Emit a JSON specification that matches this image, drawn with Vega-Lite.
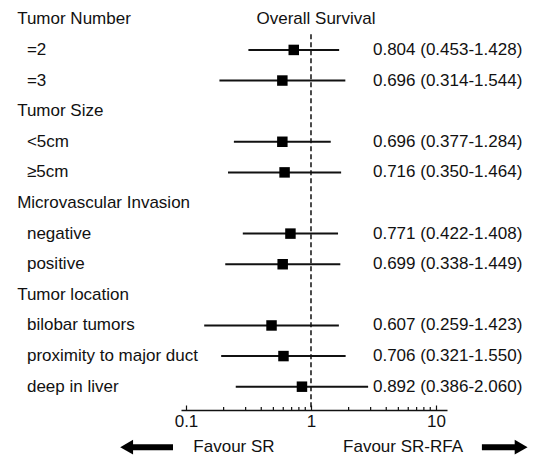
{
  "$schema": "https://vega.github.io/schema/vega-lite/v6.json",
  "width": 266,
  "height": 398,
  "autosize": {"type": "none"},
  "padding": {"left": 181, "top": 4, "right": 89, "bottom": 55},
  "background": "white",
  "config": {"view": {"stroke": null}, "font": "Liberation Sans"},
  "datasets": {
    "rows": [
      {"label": "Tumor Number"},
      {"label": "=2", "est": 0.804, "lo": 0.453, "hi": 1.428, "ci": "0.804 (0.453-1.428)"},
      {"label": "=3", "est": 0.696, "lo": 0.314, "hi": 1.544, "ci": "0.696 (0.314-1.544)"},
      {"label": "Tumor Size"},
      {"label": "<5cm", "est": 0.696, "lo": 0.377, "hi": 1.284, "ci": "0.696 (0.377-1.284)"},
      {"label": "≥5cm", "est": 0.716, "lo": 0.350, "hi": 1.464, "ci": "0.716 (0.350-1.464)"},
      {"label": "Microvascular Invasion"},
      {"label": "negative", "est": 0.771, "lo": 0.422, "hi": 1.408, "ci": "0.771 (0.422-1.408)"},
      {"label": "positive", "est": 0.699, "lo": 0.338, "hi": 1.449, "ci": "0.699 (0.338-1.449)"},
      {"label": "Tumor location"},
      {"label": "bilobar tumors", "est": 0.607, "lo": 0.259, "hi": 1.423, "ci": "0.607 (0.259-1.423)"},
      {"label": "proximity to major duct", "est": 0.706, "lo": 0.321, "hi": 1.550, "ci": "0.706 (0.321-1.550)"},
      {"label": "deep in liver", "est": 0.892, "lo": 0.386, "hi": 2.060, "ci": "0.892 (0.386-2.060)"}
    ],
    "minorTicks": [
      {"v": 0.2}, {"v": 0.3}, {"v": 0.4}, {"v": 0.5}, {"v": 0.6}, {"v": 0.7}, {"v": 0.8}, {"v": 0.9},
      {"v": 2}, {"v": 3}, {"v": 4}, {"v": 5}, {"v": 6}, {"v": 7}, {"v": 8}, {"v": 9}
    ],
    "one": [{}]
  },
  "layer": [
    {
      "layer": [
        {
          "data": {"name": "rows"},
          "transform": [{"filter": "isValid(datum.est)"}],
          "mark": {"type": "rule", "strokeWidth": 2, "color": "#111"},
          "encoding": {
            "x": {"field": "lo", "type": "quantitative", "scale": {"type": "log", "domain": [0.1931, 5.588], "nice": false, "zero": false}, "axis": null},
            "x2": {"field": "hi"},
            "y": {
              "field": "label", "type": "nominal",
              "scale": {"type": "band", "domain": ["Tumor Number", "=2", "=3", "Tumor Size", "<5cm", "≥5cm", "Microvascular Invasion", "negative", "positive", "Tumor location", "bilobar tumors", "proximity to major duct", "deep in liver"], "paddingInner": 0, "paddingOuter": 0},
              "axis": null
            }
          }
        },
        {
          "data": {"name": "rows"},
          "transform": [{"filter": "isValid(datum.est)"}],
          "mark": {"type": "point", "shape": "square", "filled": true, "size": 110, "color": "#000", "opacity": 1},
          "encoding": {
            "x": {"field": "est", "type": "quantitative", "scale": {"type": "log", "domain": [0.1931, 5.588], "nice": false, "zero": false}, "axis": null},
            "y": {"field": "label", "type": "nominal", "axis": null}
          }
        },
        {
          "data": {"name": "rows"},
          "transform": [{"filter": "isValid(datum.est)"}],
          "mark": {"type": "text", "align": "left", "baseline": "middle", "fontSize": 17, "color": "#111"},
          "encoding": {
            "x": {"datum": 2.19, "type": "quantitative", "scale": {"type": "log", "domain": [0.1931, 5.588], "nice": false, "zero": false}, "axis": null},
            "y": {"field": "label", "type": "nominal", "axis": null},
            "text": {"field": "ci"}
          }
        },
        {
          "data": {"name": "rows"},
          "transform": [{"filter": "isValid(datum.est)"}],
          "mark": {"type": "text", "align": "left", "baseline": "middle", "fontSize": 17, "color": "#111"},
          "encoding": {
            "x": {"datum": 0.0275, "type": "quantitative", "scale": {"type": "log", "domain": [0.1931, 5.588], "nice": false, "zero": false}, "axis": null},
            "y": {"field": "label", "type": "nominal", "axis": null},
            "text": {"field": "label"}
          }
        },
        {
          "data": {"name": "rows"},
          "transform": [{"filter": "!isValid(datum.est)"}],
          "mark": {"type": "text", "align": "left", "baseline": "middle", "fontSize": 17, "color": "#111"},
          "encoding": {
            "x": {"datum": 0.0243, "type": "quantitative", "scale": {"type": "log", "domain": [0.1931, 5.588], "nice": false, "zero": false}, "axis": null},
            "y": {"field": "label", "type": "nominal", "axis": null},
            "text": {"field": "label"}
          }
        },
        {
          "data": {"name": "one"},
          "mark": {"type": "rule", "strokeDash": [5, 3], "strokeWidth": 1.5, "color": "#111", "yOffset": 15, "y2Offset": 23.5},
          "encoding": {
            "x": {"datum": 1, "type": "quantitative", "scale": {"type": "log", "domain": [0.1931, 5.588], "nice": false, "zero": false}, "axis": null},
            "y": {"datum": "Tumor Number", "type": "nominal", "axis": null},
            "y2": {"datum": "deep in liver"}
          }
        },
        {
          "data": {"name": "one"},
          "mark": {"type": "text", "text": "Overall Survival", "align": "center", "baseline": "middle", "fontSize": 17, "color": "#111", "dx": 5},
          "encoding": {
            "x": {"datum": 1, "type": "quantitative", "scale": {"type": "log", "domain": [0.1931, 5.588], "nice": false, "zero": false}, "axis": null},
            "y": {"datum": "Tumor Number", "type": "nominal", "axis": null}
          }
        }
      ]
    },
    {
      "layer": [
        {
          "data": {"name": "one"},
          "mark": {"type": "text", "text": "Favour SR", "align": "center", "baseline": "middle", "fontSize": 17, "color": "#111", "yOffset": 60.5},
          "encoding": {
            "x": {"datum": 0.242, "type": "quantitative", "scale": {"type": "log", "domain": [0.0912, 12.25], "nice": false, "zero": false}, "axis": null},
            "y": {"datum": "deep in liver", "type": "nominal", "axis": null}
          }
        },
        {
          "data": {"name": "minorTicks"},
          "mark": {"type": "rule", "strokeWidth": 1.2, "color": "#111", "yOffset": 20.3, "y2Offset": 23.3},
          "encoding": {
            "x": {"field": "v", "type": "quantitative", "scale": {"type": "log", "domain": [0.0912, 12.25], "nice": false, "zero": false}, "axis": null},
            "y": {"datum": "deep in liver", "type": "nominal", "axis": null},
            "y2": {"datum": "deep in liver"}
          }
        },
        {
          "data": {"name": "one"},
          "mark": {"type": "rule", "strokeWidth": 6, "color": "#000", "yOffset": 60.5, "y2Offset": 60.5},
          "encoding": {
            "x": {"datum": 0.0787, "type": "quantitative", "scale": {"type": "log", "domain": [0.0912, 12.25], "nice": false, "zero": false}, "axis": null},
            "x2": {"datum": 0.037},
            "y": {"datum": "deep in liver", "type": "nominal", "axis": null}
          }
        },
        {
          "data": {"name": "one"},
          "mark": {"type": "point", "shape": "triangle-left", "filled": true, "size": 220, "color": "#000", "opacity": 1, "yOffset": 60.5},
          "encoding": {
            "x": {"datum": 0.0335, "type": "quantitative", "scale": {"type": "log", "domain": [0.0912, 12.25], "nice": false, "zero": false}, "axis": null},
            "y": {"datum": "deep in liver", "type": "nominal", "axis": null}
          }
        },
        {
          "data": {"name": "one"},
          "mark": {"type": "rule", "strokeWidth": 6, "color": "#000", "yOffset": 60.5, "y2Offset": 60.5},
          "encoding": {
            "x": {"datum": 23.3, "type": "quantitative", "scale": {"type": "log", "domain": [0.0912, 12.25], "nice": false, "zero": false}, "axis": null},
            "x2": {"datum": 43},
            "y": {"datum": "deep in liver", "type": "nominal", "axis": null}
          }
        },
        {
          "data": {"name": "one"},
          "mark": {"type": "point", "shape": "triangle-right", "filled": true, "size": 220, "color": "#000", "opacity": 1, "yOffset": 60.5},
          "encoding": {
            "x": {"datum": 48, "type": "quantitative", "scale": {"type": "log", "domain": [0.0912, 12.25], "nice": false, "zero": false}, "axis": null},
            "y": {"datum": "deep in liver", "type": "nominal", "axis": null}
          }
        }
      ]
    },
    {
      "data": {"name": "one"},
      "mark": {"type": "text", "text": "Favour SR-RFA", "align": "center", "baseline": "middle", "fontSize": 17, "color": "#111", "yOffset": 60.5},
      "encoding": {
        "x": {
          "datum": 5.45, "type": "quantitative",
          "scale": {"type": "log", "domain": [0.0912, 12.25], "nice": false, "zero": false},
          "axis": {
            "orient": "bottom", "offset": 8, "title": null, "grid": false,
            "values": [0.1, 1, 10],
            "format": "~g",
            "tickSize": -5,
            "tickColor": "#111", "tickWidth": 1.2, "domainColor": "#111", "domainWidth": 1.5,
            "labelFontSize": 17, "labelColor": "#111", "labelPadding": 8,
            "labelOverlap": false, "labelFlush": false, "labelBound": false
          }
        },
        "y": {"datum": "deep in liver", "type": "nominal", "axis": null}
      }
    }
  ],
  "resolve": {"scale": {"x": "independent"}, "axis": {"x": "independent"}}
}
